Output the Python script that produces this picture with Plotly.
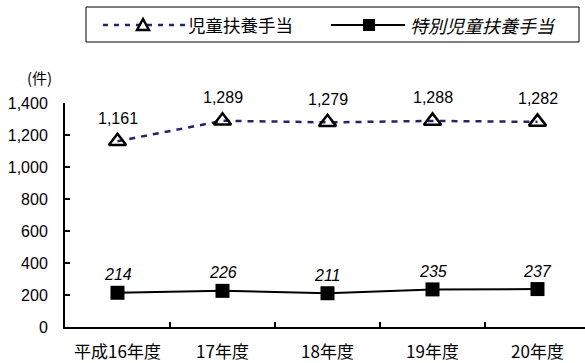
import plotly.graph_objects as go

years = ["平成16年度", "17年度", "18年度", "19年度", "20年度"]
jido = [1161, 1289, 1279, 1288, 1282]          # 児童扶養手当
tokubetsu = [214, 226, 211, 235, 237]          # 特別児童扶養手当
yticks = [0, 200, 400, 600, 800, 1000, 1200, 1400]

W, H = 585, 363
ML, MR, MT, MB = 65, 0, 103, 36
PW, PH = W - ML - MR, H - MT - MB

FONT = "Liberation Sans, Noto Sans CJK JP, sans-serif"
JFONT = "Noto Sans CJK JP, sans-serif"
NAVY = "#23236e"


def px(x):
    return (x - ML) / PW


def py(y):
    return (H - MB - y) / PH


fig = go.Figure()
fig.add_trace(go.Scatter(
    x=years, y=jido, mode="lines+markers",
    line=dict(color=NAVY, width=2.5, dash="6px,6px"),
    marker=dict(symbol="triangle-up-open", size=15, color="black",
                line=dict(color="black", width=2.5)),
    showlegend=False, cliponaxis=False,
))
fig.add_trace(go.Scatter(
    x=years, y=tokubetsu, mode="lines+markers",
    line=dict(color="black", width=2),
    marker=dict(symbol="square", size=14, color="black"),
    showlegend=False, cliponaxis=False,
))

annotations = []
for c, v in zip(years, jido):
    annotations.append(dict(x=c, y=v, text=f"{v:,}", showarrow=False,
                            yshift=23, font=dict(family=FONT, size=16, color="black")))
for c, v in zip(years, tokubetsu):
    annotations.append(dict(x=c, y=v, text=f"<i>{v:,}</i>", showarrow=False,
                            yshift=18, font=dict(family=FONT, size=16, color="black")))

annotations.append(dict(xref="paper", yref="paper", x=px(25), y=py(77),
                        xanchor="left", yanchor="middle",
                        text="(件)", showarrow=False,
                        font=dict(family=JFONT, size=15, color="black")))

# legend drawn by hand
ly = py(25)
shapes = [
    dict(type="rect", xref="paper", yref="paper",
         x0=px(86), x1=px(579), y0=py(42), y1=py(7),
         line=dict(color="black", width=1), fillcolor="white"),
    dict(type="line", xref="paper", yref="paper",
         x0=px(103), x1=px(185), y0=ly, y1=ly,
         line=dict(color=NAVY, width=2.5, dash="5px,6px")),
    dict(type="path", xref="paper", yref="paper",
         path=f"M {px(137)} {py(30)} L {px(149)} {py(30)} L {px(143)} {py(19)} Z",
         line=dict(color="black", width=2.5), fillcolor="white"),
    dict(type="line", xref="paper", yref="paper",
         x0=px(331), x1=px(405), y0=ly, y1=ly,
         line=dict(color="black", width=2)),
    dict(type="rect", xref="paper", yref="paper",
         x0=px(363), x1=px(375), y0=py(31), y1=py(19),
         line=dict(color="black", width=0), fillcolor="black"),
]
annotations.append(dict(xref="paper", yref="paper", x=px(186), y=ly,
                        xanchor="left", yanchor="middle",
                        text="児童扶養手当", showarrow=False,
                        font=dict(family=JFONT, size=17.5, color="black")))
annotations.append(dict(xref="paper", yref="paper", x=px(408), y=ly,
                        xanchor="left", yanchor="middle",
                        text="<i>特別児童扶養手当</i>", showarrow=False,
                        font=dict(family=JFONT, size=18, color="black")))

fig.update_layout(
    width=W, height=H,
    margin=dict(l=ML, r=MR, t=MT, b=MB, pad=0),
    paper_bgcolor="white", plot_bgcolor="white",
    shapes=shapes, annotations=annotations,
    xaxis=dict(type="category", range=[-0.5, -0.5 + PW / 105],
               tickson="boundaries", ticks="inside", ticklen=5, tickwidth=1.5,
               tickcolor="black", showline=True, linecolor="black", linewidth=2,
               showgrid=False, zeroline=False,
               tickfont=dict(family=JFONT, size=17, color="black"),
               ticklabelstandoff=9),
    yaxis=dict(range=[0, 1400], tickvals=yticks,
               ticktext=[f"{t:,}" for t in yticks],
               ticks="inside", ticklen=5, tickwidth=1.5, tickcolor="black",
               showline=True, linecolor="black", linewidth=2,
               showgrid=False, zeroline=False,
               tickfont=dict(family=FONT, size=16, color="black"),
               ticklabelstandoff=12),
)

fig.write_html("out.html")
